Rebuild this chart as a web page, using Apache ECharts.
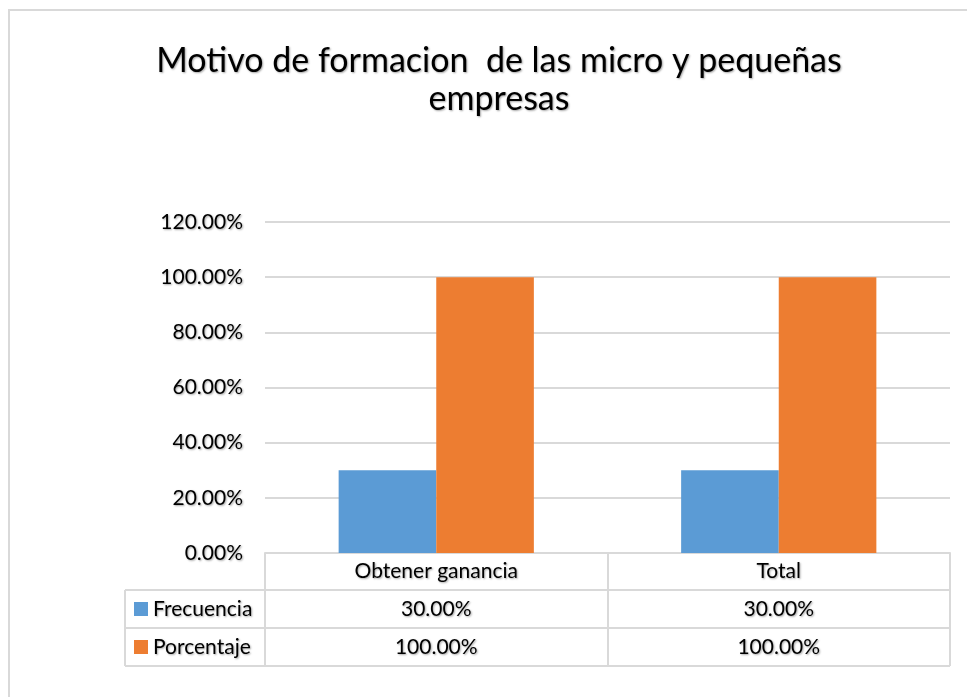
<!DOCTYPE html>
<html>
<head>
<meta charset="utf-8">
<script src="https://cdn.jsdelivr.net/npm/echarts@6/dist/echarts.min.js"></script>
<style>
  html, body { margin: 0; padding: 0; background: #ffffff; }
  #chart { width: 967px; height: 697px; }
</style>
</head>
<body>
<div id="chart"></div>
<script>
const titleText = 'Motivo de formacion  de las micro y pequeñas\nempresas';
const categories = ['Obtener ganancia', 'Total'];
const seriesNames = ['Frecuencia', 'Porcentaje'];
const frecuencia = [0.30, 0.30];
const porcentaje = [1.00, 1.00];
const yTicks = [0, 0.2, 0.4, 0.6, 0.8, 1.0, 1.2];

const FONT = 'Lato';
const FS = 21;
const shadow = { textShadowColor: 'rgba(0,0,0,0.35)', textShadowBlur: 2, textShadowOffsetX: 1, textShadowOffsetY: 1 };
const pct = v => (v * 100).toFixed(2) + '%';
const lineColor = '#d9d9d9';

const chart = echarts.init(document.getElementById('chart'), null, { renderer: 'canvas' });

const option = {
  backgroundColor: '#ffffff',
  animation: false,
  title: {
    text: titleText,
    left: 494,
    top: 37,
    textAlign: 'center',
    textStyle: Object.assign({ fontFamily: FONT, fontSize: 34, fontWeight: 'normal', color: '#000', lineHeight: 38 }, shadow)
  },
  legend: {
    orient: 'vertical',
    left: 134,
    top: 596,
    padding: 0,
    itemWidth: 14,
    itemHeight: 14,
    itemGap: 12,
    icon: 'rect',
    data: seriesNames,
    textStyle: Object.assign({ fontFamily: FONT, fontSize: FS, color: '#000', lineHeight: 18, height: 18, padding: [0, 0, 8, 0] }, shadow)
  },
  grid: { left: 265, right: 17, top: 222, bottom: 144, containLabel: false },
  xAxis: {
    type: 'category',
    data: categories,
    axisLine: { show: true, lineStyle: { color: lineColor, width: 2 } },
    axisTick: { show: true, length: 113, inside: false, lineStyle: { color: lineColor, width: 2 } },
    axisLabel: {
      interval: 0,
      margin: 0,
      formatter: function (val, idx) {
        return '{c|' + val + '}\n{v|' + pct(frecuencia[idx]) + '}\n{v|' + pct(porcentaje[idx]) + '}';
      },
      rich: {
        c: Object.assign({ fontFamily: FONT, fontSize: FS, color: '#000', lineHeight: 37, height: 37 }, shadow),
        v: Object.assign({ fontFamily: FONT, fontSize: FS, color: '#000', lineHeight: 38, height: 38 }, shadow)
      }
    }
  },
  yAxis: {
    type: 'value',
    min: 0,
    max: 1.2,
    interval: 0.2,
    axisLine: { show: false },
    axisTick: { show: false },
    splitLine: { lineStyle: { color: lineColor, width: 2 } },
    axisLabel: Object.assign({
      fontFamily: FONT, fontSize: FS, color: '#000', margin: 22,
      formatter: v => pct(v)
    }, shadow)
  },
  series: [
    {
      name: seriesNames[0], type: 'bar', data: frecuencia,
      itemStyle: { color: '#5b9bd5' },
      barGap: '0%', barCategoryGap: '43%'
    },
    {
      name: seriesNames[1], type: 'bar', data: porcentaje,
      itemStyle: { color: '#ed7d31' },
      barGap: '0%', barCategoryGap: '43%'
    }
  ],
  graphic: [
    { type: 'rect', shape: { x: 9, y: 10, width: 1200, height: 1000 }, style: { fill: 'none', stroke: lineColor, lineWidth: 2 }, silent: true },
    { type: 'line', shape: { x1: 125, y1: 590, x2: 950, y2: 590 }, style: { stroke: lineColor, lineWidth: 2 }, silent: true },
    { type: 'line', shape: { x1: 125, y1: 628, x2: 950, y2: 628 }, style: { stroke: lineColor, lineWidth: 2 }, silent: true },
    { type: 'line', shape: { x1: 125, y1: 666, x2: 950, y2: 666 }, style: { stroke: lineColor, lineWidth: 2 }, silent: true },
    { type: 'line', shape: { x1: 125, y1: 590, x2: 125, y2: 666 }, style: { stroke: lineColor, lineWidth: 2 }, silent: true }
  ]
};

chart.setOption(option);
</script>
</body>
</html>
